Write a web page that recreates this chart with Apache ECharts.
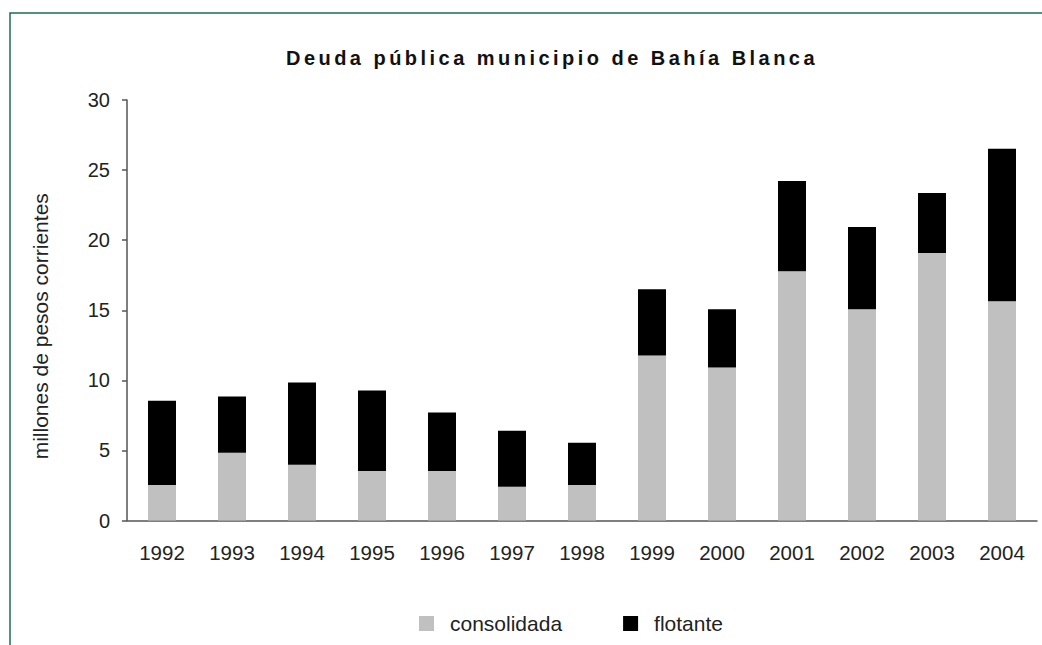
<!DOCTYPE html>
<html>
<head>
<meta charset="utf-8">
<script src="https://cdn.jsdelivr.net/npm/echarts@6/dist/echarts.min.js"></script>
<style>
html,body{margin:0;padding:0;background:#fff;}
#main{width:1042px;height:645px;}
</style>
</head>
<body>
<div id="main"></div>
<script>
const years = ['1992','1993','1994','1995','1996','1997','1998','1999','2000','2001','2002','2003','2004'];
const consolidada = [2.54, 4.83, 3.97, 3.54, 3.54, 2.40, 2.54, 11.78, 10.92, 17.79, 15.07, 19.08, 15.64];
const flotante =    [6.01, 4.01, 5.87, 5.73, 4.16, 4.01, 3.01, 4.72, 4.15, 6.44, 5.87, 4.29, 10.88];
const yTicks = [0, 5, 10, 15, 20, 25, 30];
const titleText = 'Deuda pública municipio de Bahía Blanca';

const font = 'Liberation Sans, Arial, Helvetica, sans-serif';
const chart = echarts.init(document.getElementById('main'), null, {renderer:'svg'});
chart.setOption({
  backgroundColor: '#ffffff',
  animation: false,
  title: {
    text: titleText,
    left: 'center',
    top: 43,
    padding: [5, 5, 5, 67],
    textStyle: {fontFamily: font, fontSize: 20, fontWeight: 'bold', color: '#111'}
  },
  graphic: [{
    type: 'rect',
    shape: {x: 10, y: 13, width: 1100, height: 700},
    style: {fill: 'none', stroke: '#1c6e50', lineWidth: 1.5},
    silent: true
  }],
  legend: {
    left: 414,
    top: 608,
    itemWidth: 15,
    itemHeight: 15,
    itemGap: 61,
    icon: 'rect',
    textStyle: {fontFamily: font, fontSize: 21, color: '#222', padding: [0, 0, 0, 11]},
    data: ['consolidada', 'flotante']
  },
  grid: {left: 127, right: 5, top: 100, bottom: 124.5},
  xAxis: {
    type: 'category',
    data: years,
    axisLine: {lineStyle: {color: '#555', width: 1.5}},
    axisTick: {show: false},
    axisLabel: {fontFamily: font, fontSize: 20.5, color: '#222', margin: 21}
  },
  yAxis: {
    type: 'value',
    min: yTicks[0],
    max: yTicks[yTicks.length - 1],
    interval: 5,
    name: 'millones de pesos corrientes',
    nameLocation: 'middle',
    nameRotate: 90,
    nameGap: 76,
    nameTextStyle: {fontFamily: font, fontSize: 21, color: '#222', padding: [0, 32, 0, 0]},
    axisLine: {show: true, lineStyle: {color: '#555', width: 1.5}},
    axisTick: {show: true, length: 5, lineStyle: {color: '#555', width: 1.5}},
    splitLine: {show: false},
    axisLabel: {fontFamily: font, fontSize: 20, color: '#222', margin: 17}
  },
  series: [
    {name: 'consolidada', type: 'bar', stack: 'd', data: consolidada, barWidth: 28, itemStyle: {color: '#c0c0c0'}},
    {name: 'flotante', type: 'bar', stack: 'd', data: flotante, barWidth: 28, itemStyle: {color: '#000000'}}
  ]
});

// widen the title's letter spacing to match the reference
(function () {
  const svg = document.querySelector('#main svg');
  if (!svg) return;
  const texts = svg.querySelectorAll('text');
  texts.forEach(function (el) {
    if (el.textContent !== titleText) return;
    const w = el.getComputedTextLength();
    const target = 532;
    const s = (target - w) / (titleText.length);
    el.setAttribute('letter-spacing', s.toFixed(2));
    el.style.letterSpacing = s.toFixed(2) + 'px';
    const svgRect = svg.getBoundingClientRect();
    const r = el.getBoundingClientRect();
    const center = r.left - svgRect.left + r.width / 2;
    const dx = 552 - center;
    const x = parseFloat(el.getAttribute('x') || '0');
    el.setAttribute('x', (x + dx).toFixed(2));
  });
})();
</script>
</body>
</html>
